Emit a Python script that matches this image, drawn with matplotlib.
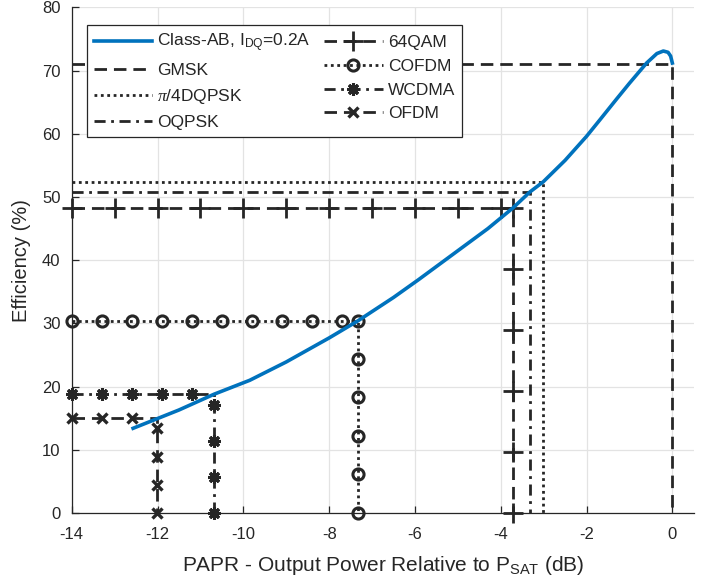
#!/usr/bin/env python3

import matplotlib
matplotlib.use("Agg")
import matplotlib.pyplot as plt

# Class-AB efficiency curve
curve_x = [-12.57, -11.5, -10.68, -9.85, -9.0, -8.0, -7.33, -6.5, -5.92, -5.0,
           -4.3, -3.71, -3.32, -3.01, -2.5, -2.0, -1.69, -1.3, -1.0, -0.6,
           -0.36, -0.21, -0.1, -0.04, 0.0]
curve_y = [13.4, 16.3, 18.8, 21.0, 23.9, 27.7, 30.4, 34.1, 36.9, 41.5,
           45.0, 48.3, 50.8, 52.4, 55.8, 59.6, 62.2, 65.5, 68.0, 71.2,
           72.7, 73.1, 72.9, 72.3, 71.2]

# PAPR / efficiency operating points for each modulation
gmsk = (0.0, 71.0)
dqpsk = (-3.01, 52.4)
oqpsk = (-3.32, 50.8)

qam_x = [-14, -13, -12, -11, -10, -9, -8, -7, -6, -5, -4, -3.71,
         -3.71, -3.71, -3.71, -3.71, -3.71]
qam_y = [48.3] * 12 + [38.6, 29.0, 19.3, 9.7, 0]

cofdm_x = [-14, -13.3, -12.6, -11.9, -11.2, -10.5, -9.8, -9.1, -8.4, -7.7, -7.33,
           -7.33, -7.33, -7.33, -7.33, -7.33]
cofdm_y = [30.4] * 11 + [24.4, 18.3, 12.2, 6.1, 0]

wcdma_x = [-14, -13.3, -12.6, -11.9, -11.2, -10.68, -10.68, -10.68, -10.68, -10.68]
wcdma_y = [18.8] * 6 + [17.1, 11.4, 5.7, 0]

ofdm_x = [-14, -13.3, -12.6, -12.01, -12.01, -12.01, -12.01, -12.01]
ofdm_y = [15.0] * 4 + [13.4, 8.9, 4.4, 0]

labels = ["Class-AB, I$_{\\mathregular{DQ}}$=0.2A", "GMSK", "$\\pi$/4DQPSK", "OQPSK",
          "64QAM", "COFDM", "WCDMA", "OFDM"]

plt.rcParams["font.family"] = ["Liberation Sans", "DejaVu Sans"]
plt.rcParams["mathtext.fontset"] = "custom"
plt.rcParams["mathtext.rm"] = "Liberation Sans"
plt.rcParams["mathtext.it"] = "Liberation Serif:italic"
plt.rcParams["axes.unicode_minus"] = False

blue = "#0072BD"
dark = "#262626"
lw = 2.0
long_dash = (4.5, 2.5)
dash_dot = (4, 2, 1, 2)
dots = (1, 1.3)
aster = (8, 2, 0)


def corner_path(pt):
    x, y = pt
    return [-14, x, x], [y, y, 0]


fig = plt.figure(figsize=(7.06, 5.84), dpi=100)
ax = fig.add_axes([0.1016, 0.1216, 0.8811, 0.8657])

h_curve, = ax.plot(curve_x, curve_y, color=blue, lw=2.6, zorder=5)

gx, gy = corner_path(gmsk)
h_gmsk, = ax.plot(gx, gy, color=dark, lw=lw, dashes=long_dash)
dx, dy = corner_path(dqpsk)
h_dq, = ax.plot(dx, dy, color=dark, lw=lw, dashes=dots)
ox, oy = corner_path(oqpsk)
h_oq, = ax.plot(ox, oy, color=dark, lw=lw, dashes=dash_dot)

h_qam, = ax.plot(qam_x, qam_y, color=dark, lw=lw, dashes=long_dash,
                 marker="+", ms=14, mew=2, clip_on=False)
h_cofdm, = ax.plot(cofdm_x, cofdm_y, color=dark, lw=lw, dashes=dots,
                   marker="o", ms=8, mew=2.2, mfc="none", clip_on=False)
h_wcdma, = ax.plot(wcdma_x, wcdma_y, color=dark, lw=lw, dashes=dash_dot,
                   marker=aster, ms=9, mew=2.2, clip_on=False,
                   markevery=[0, 1, 2, 3, 4, 6, 7, 8, 9])
h_ofdm, = ax.plot(ofdm_x, ofdm_y, color=dark, lw=lw, dashes=long_dash,
                  marker="x", ms=7, mew=2.4, clip_on=False,
                  markevery=[0, 1, 2, 4, 5, 6, 7])

ax.set_xlim(-14, 0.5)
ax.set_ylim(0, 80)
ax.set_xticks(range(-14, 1, 2))
ax.set_yticks(range(0, 81, 10))
ax.grid(True, color="#e3e3e3", lw=0.9)
ax.set_axisbelow(True)
for side in ["top", "right"]:
    ax.spines[side].set_visible(False)
for side in ["left", "bottom"]:
    ax.spines[side].set_color(dark)
    ax.spines[side].set_linewidth(0.9)
ax.tick_params(direction="in", length=5, width=0.9, colors=dark,
               labelsize=12)
ax.tick_params(axis="x", pad=10)
ax.tick_params(axis="y", pad=8)

ax.set_xlabel("PAPR - Output Power Relative to P$_{\\mathregular{SAT}}$ (dB)",
              fontsize=15, color=dark, labelpad=9)
ax.set_ylabel("Efficiency (%)", fontsize=14.5, color=dark, labelpad=8)

handles = [h_curve, h_gmsk, h_dq, h_oq, h_qam, h_cofdm, h_wcdma, h_ofdm]
leg = ax.legend(handles, labels, ncol=2, loc="upper left",
                bbox_to_anchor=(0.024, 0.965), borderaxespad=0,
                fontsize=12.5, handlelength=3.35, handletextpad=0.3,
                columnspacing=0.8, labelspacing=0.5, fancybox=False,
                framealpha=1, edgecolor=dark, borderpad=0.4)
leg.get_frame().set_linewidth(0.9)
for t in leg.get_texts():
    t.set_color(dark)

fig.savefig("out.png", dpi=100)
